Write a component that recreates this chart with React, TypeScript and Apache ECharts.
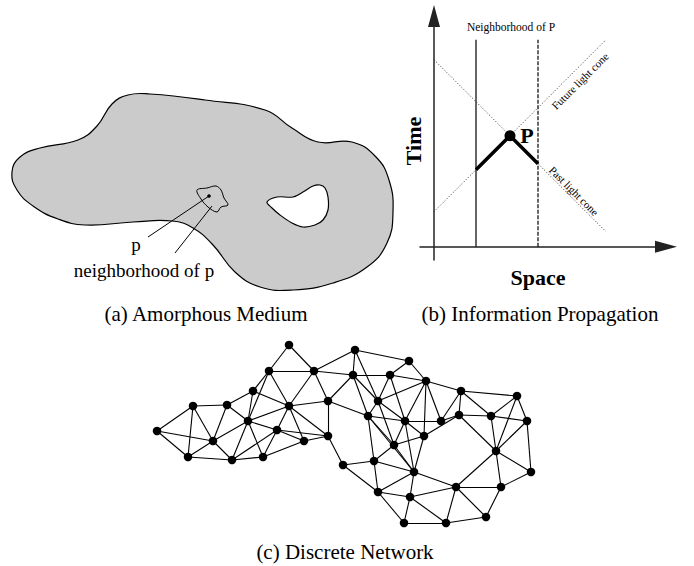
import React, { useEffect, useRef } from "react";
import * as echarts from "echarts";

// ---------- Panel (a): amorphous medium ----------
const blobOuter = [
  [12, 172], [20, 157], [40, 148], [78, 140], [97, 126], [112, 104], [128, 95], [150, 94],
  [205, 100], [265, 110], [292, 128], [318, 142], [352, 142], [376, 157], [389, 180],
  [393, 212], [387, 243], [367, 267], [333, 283], [293, 290], [260, 287], [235, 272],
  [213, 245], [193, 228], [172, 221], [133, 222], [85, 225], [58, 219], [33, 206], [17, 190],
];
const blobHole = [
  [267, 202], [277, 197], [293, 197], [303, 192], [313, 186], [320, 185], [325, 188],
  [328, 197], [328, 210], [323, 220], [315, 225], [303, 227], [292, 223], [280, 215], [272, 208],
];
const neighborhoodShape = [
  [197, 190], [207, 188], [216, 186], [221, 190], [224, 198], [228, 205], [221, 207],
  [217, 212], [208, 207], [201, 199],
];
const pointP = [209, 196];
const pointerLines = [
  [[148, 237], [209, 196]],
  [[175, 253], [212, 206]],
];

// ---------- Panel (b): information propagation (units: space / time) ----------
const neighborhoodBounds = [4.2, 10.4];
const boundTop = 20.7;
const futureCone = [[0, 3.5], [17.2, 20.7]];
const pastCone = [[0, 18.7], [17.2, 1.5]];
const eventP = [7.6, 11.1];
const worldline = [[4.2, 7.7], [7.6, 11.1], [10.4, 8.3]];

// ---------- Panel (c): discrete network ----------
const nodeNames = [
  "A", "B", "C", "D", "E", "F", "G", "H", "I", "J", "K", "L", "M", "N", "O", "P", "Q",
  "R", "S", "T", "U", "V", "W", "X", "Y", "Z", "AA", "AB", "AC", "AD", "AE", "AF", "AG",
  "AH", "AI", "AJ", "AK", "AL", "AM", "AN", "AO", "AP", "AQ", "AR", "AS",
];
const nodeX = [
  157, 193, 227, 253, 269, 289, 314, 355, 409, 353, 390, 426, 461, 517, 289, 328, 378,
  248, 213, 188, 232, 263, 277, 304, 328, 343, 368, 405, 441, 459, 491, 527, 394,
  424, 496, 531, 374, 414, 378, 410, 456, 501, 404, 446, 486,
];
const nodeY = [
  431, 406, 405, 391, 371, 345, 371, 350, 361, 375, 375, 381, 391, 396, 406, 401, 401,
  421, 441, 457, 460, 457, 430, 441, 436, 465, 416, 421, 421, 415, 416, 421, 445,
  436, 451, 472, 461, 472, 492, 497, 487, 487, 523, 523, 517,
];
const edges = [
  ["A", "B"], ["A", "T"], ["A", "S"],
  ["B", "C"], ["B", "T"], ["B", "S"],
  ["C", "S"], ["C", "D"], ["C", "R"],
  ["D", "E"], ["D", "R"], ["D", "O"],
  ["E", "F"], ["E", "G"], ["E", "R"], ["E", "O"],
  ["F", "G"],
  ["G", "H"], ["G", "J"], ["G", "O"], ["G", "P"],
  ["H", "I"], ["H", "J"], ["H", "Q"],
  ["I", "K"], ["I", "L"],
  ["J", "K"], ["J", "Q"], ["J", "P"], ["J", "AA"],
  ["K", "L"], ["K", "Q"], ["K", "AB"],
  ["L", "M"], ["L", "Q"], ["L", "AB"], ["L", "AH"], ["L", "AC"],
  ["M", "N"], ["M", "AC"], ["M", "AD"], ["M", "AE"],
  ["N", "AE"], ["N", "AF"], ["N", "AI"],
  ["O", "R"], ["O", "W"], ["O", "X"], ["O", "Y"], ["O", "P"],
  ["P", "Y"], ["P", "AA"],
  ["Q", "AA"], ["Q", "AB"], ["Q", "AG"],
  ["R", "S"], ["R", "U"], ["R", "V"], ["R", "W"],
  ["S", "T"], ["S", "U"],
  ["T", "U"],
  ["U", "V"], ["U", "W"],
  ["V", "W"], ["V", "X"],
  ["W", "X"], ["W", "Y"],
  ["X", "Y"],
  ["Y", "Z"],
  ["Z", "AK"], ["Z", "AM"],
  ["AA", "AB"], ["AA", "AG"], ["AA", "AK"], ["AA", "AL"],
  ["AB", "AC"], ["AB", "AH"], ["AB", "AG"], ["AB", "AL"],
  ["AG", "AH"], ["AG", "AL"], ["AH", "AL"],
  ["AC", "AD"], ["AD", "AE"], ["AD", "AH"], ["AD", "AI"],
  ["AE", "AF"], ["AE", "AI"],
  ["AF", "AI"], ["AF", "AJ"],
  ["AI", "AJ"], ["AI", "AO"], ["AI", "AP"],
  ["AJ", "AP"],
  ["AK", "AG"], ["AK", "AM"], ["AK", "AL"],
  ["AL", "AM"], ["AL", "AN"], ["AL", "AO"],
  ["AM", "AN"], ["AM", "AQ"],
  ["AN", "AO"], ["AN", "AQ"], ["AN", "AR"],
  ["AO", "AP"], ["AO", "AR"], ["AO", "AS"],
  ["AP", "AS"],
  ["AQ", "AR"], ["AR", "AS"],
];

const SERIF = '"Liberation Serif", "Times New Roman", serif';

export default function App() {
  const ref = useRef<HTMLDivElement>(null);

  useEffect(() => {
    document.body.style.margin = "0";
    if (!ref.current) return;
    const chart = echarts.init(ref.current, null, { renderer: "svg" });

    const hiddenAxis = {
      show: false,
      axisLine: { show: false },
      axisTick: { show: false },
      axisLabel: { show: false },
      splitLine: { show: false },
    };
    const arrowAxisLine = {
      show: true,
      onZero: true,
      symbol: ["none", "triangle"],
      symbolSize: [12, 22],
      lineStyle: { color: "#222", width: 1.5 },
    };

    const text = (
      str: string,
      x: number,
      y: number,
      size: number,
      opts: { bold?: boolean; rotation?: number } = {}
    ) => ({
      type: "text",
      x,
      y,
      rotation: opts.rotation || 0,
      silent: true,
      style: {
        text: str,
        x: 0,
        y: 0,
        fontFamily: SERIF,
        fontSize: size,
        fontWeight: opts.bold ? "bold" : "normal",
        fill: "#000",
        textAlign: "center",
        textVerticalAlign: "middle",
      },
    });

    const lineSeries = (data: number[][], style: any) => ({
      type: "line",
      xAxisIndex: 0,
      yAxisIndex: 0,
      data,
      symbol: "none",
      silent: true,
      lineStyle: style,
    });

    chart.setOption({
      animation: false,
      grid: [
        { left: 420, top: 16, width: 246, height: 244 },
        { left: 0, top: 0, width: 694, height: 566 },
      ],
      xAxis: [
        {
          gridIndex: 0,
          type: "value",
          min: -1.4,
          max: 23.2,
          axisLine: arrowAxisLine,
          axisTick: { show: false },
          axisLabel: { show: false },
          splitLine: { show: false },
        },
        { gridIndex: 1, type: "value", min: 0, max: 694, ...hiddenAxis },
      ],
      yAxis: [
        {
          gridIndex: 0,
          type: "value",
          min: -1.33,
          max: 23.07,
          axisLine: arrowAxisLine,
          axisTick: { show: false },
          axisLabel: { show: false },
          splitLine: { show: false },
        },
        { gridIndex: 1, type: "value", min: 0, max: 566, inverse: true, ...hiddenAxis },
      ],
      series: [
        // Panel (b)
        lineSeries(
          [[neighborhoodBounds[0], 0], [neighborhoodBounds[0], boundTop]],
          { color: "#000", width: 1.2 }
        ),
        lineSeries(
          [[neighborhoodBounds[1], 0], [neighborhoodBounds[1], boundTop]],
          { color: "#000", width: 1.2, type: [4, 1.5] }
        ),
        lineSeries(futureCone, { color: "#333", width: 1, type: [1, 2] }),
        lineSeries(pastCone, { color: "#333", width: 1, type: [1, 2] }),
        lineSeries(worldline, { color: "#000", width: 3.5, join: "miter" }),
        {
          type: "scatter",
          xAxisIndex: 0,
          yAxisIndex: 0,
          data: [eventP],
          symbolSize: 11,
          itemStyle: { color: "#000", opacity: 1 },
          silent: true,
          z: 5,
        },
        // Panel (a)
        {
          type: "custom",
          xAxisIndex: 1,
          yAxisIndex: 1,
          data: [[0, 0]],
          silent: true,
          clip: false,
          renderItem: (_params: any, api: any) => {
            const c = (p: number[]) => api.coord(p);
            const dot = c(pointP);
            return {
              type: "group",
              children: [
                {
                  type: "polygon",
                  shape: { points: blobOuter.map(c), smooth: 0.45 },
                  style: { fill: "#cbcbcb", stroke: "#000", lineWidth: 1.2 },
                },
                {
                  type: "polygon",
                  shape: { points: blobHole.map(c), smooth: 0.35 },
                  style: { fill: "#fff", stroke: "#000", lineWidth: 1.2 },
                },
                {
                  type: "polygon",
                  shape: { points: neighborhoodShape.map(c), smooth: 0.35 },
                  style: { fill: "none", stroke: "#000", lineWidth: 1 },
                },
                ...pointerLines.map(([a, b]) => {
                  const pa = c(a);
                  const pb = c(b);
                  return {
                    type: "line",
                    shape: { x1: pa[0], y1: pa[1], x2: pb[0], y2: pb[1] },
                    style: { stroke: "#000", lineWidth: 1 },
                  };
                }),
                {
                  type: "circle",
                  shape: { cx: dot[0], cy: dot[1], r: 1.8 },
                  style: { fill: "#000" },
                },
              ],
            };
          },
        },
        // Panel (c)
        {
          type: "graph",
          coordinateSystem: "cartesian2d",
          xAxisIndex: 1,
          yAxisIndex: 1,
          silent: true,
          symbol: "circle",
          symbolSize: 8.5,
          itemStyle: { color: "#000", opacity: 1 },
          lineStyle: { color: "#000", width: 1.1, opacity: 1, curveness: 0 },
          label: { show: false },
          emphasis: { disabled: true },
          data: nodeNames.map((n, i) => ({ name: n, value: [nodeX[i], nodeY[i]] })),
          links: edges.map(([s, t]) => ({ source: s, target: t })),
        },
      ],
      graphic: [
        text("p", 136, 244, 19),
        text("neighborhood of p", 144, 270, 19),
        text("(a) Amorphous Medium", 206, 314, 21),
        text("(b) Information Propagation", 540, 314, 21),
        text("(c) Discrete Network", 345, 552, 21),
        text("Space", 538, 277, 22, { bold: true }),
        text("Time", 413, 141, 22, { bold: true, rotation: Math.PI / 2 }),
        text("P", 527, 135, 22, { bold: true }),
        text("Neighborhood of P", 511, 27, 11.5),
        text("Future light cone", 580, 81, 11, { rotation: Math.PI / 4 }),
        text("Past light cone", 574, 191, 11, { rotation: -Math.PI / 4 }),
      ],
    });

    return () => chart.dispose();
  }, []);

  return <div ref={ref} style={{ width: 694, height: 566 }} />;
}
